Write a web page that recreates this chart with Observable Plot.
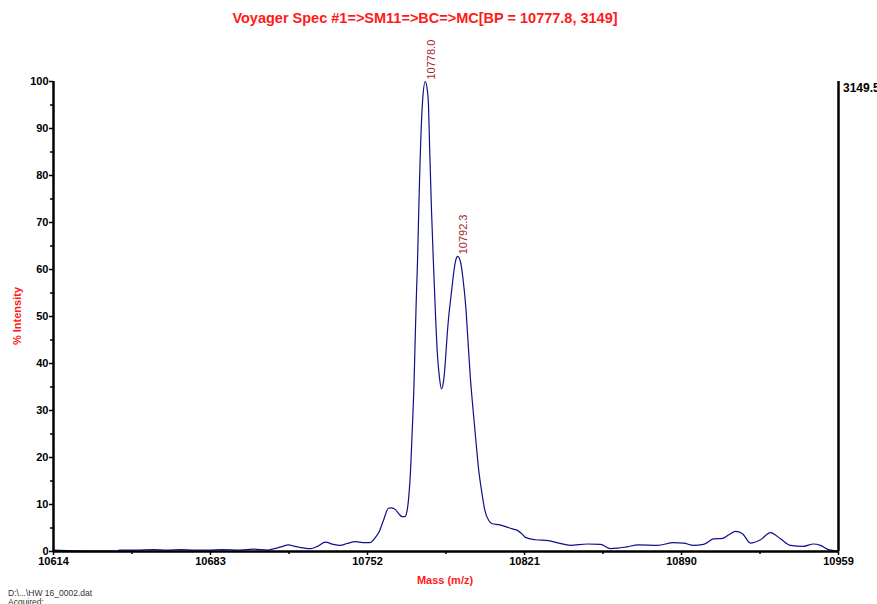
<!DOCTYPE html>
<html>
<head>
<meta charset="utf-8">
<script src="https://cdn.jsdelivr.net/npm/d3@7"></script>
<script src="https://cdn.jsdelivr.net/npm/@observablehq/plot@0.6"></script>
<style>
  html, body { margin: 0; padding: 0; background: #fff; }
  #wrap { position: relative; width: 877px; height: 604px; overflow: hidden; font-family: "Liberation Sans", Arial, sans-serif; }
  #chart { position: absolute; left: 0; top: 0; }
  .lbl { position: absolute; white-space: nowrap; line-height: 1; }
  #title { left: 425px; top: 11px; transform: translateX(-50%); color: #ff1a1a; font-weight: bold; font-size: 14.5px; }
  #ylab { left: 17px; top: 316px; transform: translate(-50%, -50%) rotate(-90deg); color: #ff1a1a; font-weight: bold; font-size: 11px; }
  #xlab { left: 445px; top: 575px; transform: translateX(-50%); color: #ff1a1a; font-weight: bold; font-size: 11px; }
  #rlab { left: 843px; top: 82px; color: #000; font-weight: bold; font-size: 12px; }
  #foot1 { left: 8px; top: 589px; color: #333; font-size: 8.5px; }
  #foot2 { left: 8px; top: 598px; color: #333; font-size: 8.5px; }
</style>
</head>
<body>
<div id="wrap">
  <div id="chart"></div>
  <div class="lbl" id="title">Voyager Spec #1=&gt;SM11=&gt;BC=&gt;MC[BP = 10777.8, 3149]</div>
  <div class="lbl" id="ylab">% Intensity</div>
  <div class="lbl" id="xlab">Mass (m/z)</div>
  <div class="lbl" id="rlab">3149.5</div>
  <div class="lbl" id="foot1">D:\...\HW 16_0002.dat</div>
  <div class="lbl" id="foot2">Acquired:</div>
</div>
<script>
const mass = [
  10614.0, 10620, 10630, 10642, 10643, 10650, 10658, 10664, 10670, 10676,
  10682, 10688, 10696, 10702, 10708, 10711, 10714, 10717.3, 10720, 10722,
  10727, 10730, 10733.5, 10737, 10740, 10743, 10746.7, 10750, 10753, 10755.5,
  10757, 10759, 10761.2, 10762.5, 10764.3, 10765.8, 10767.3, 10768.4, 10769.4, 10770.2,
  10770.9, 10771.6, 10772.4, 10772.9, 10773.4, 10774.0, 10774.55, 10775.1, 10775.6, 10776.3,
  10777.4, 10778.2, 10778.8, 10779.3, 10780.1, 10780.9, 10781.9, 10782.6, 10783.6,
  10784.5, 10785.5, 10786.3, 10787.0, 10787.7, 10788.5, 10789.2, 10789.9, 10790.8, 10791.6,
  10792.9, 10794.1, 10795.2, 10796.2, 10797.2, 10798.0, 10799.5, 10800.9, 10802.1, 10803.6, 10805.3,
  10806.8, 10809.7, 10812.7, 10815.7, 10817.9, 10820, 10821.4, 10825.8, 10831.5, 10836,
  10841.2, 10848.7, 10854.4, 10858.8, 10861.9, 10866, 10871.1, 10879.5, 10886.5, 10890.9,
  10895.3, 10899.7, 10904.1, 10908.1, 10911, 10913.7, 10916.8, 10920.3, 10924.7, 10929.1,
  10933.5, 10937.9, 10943.6, 10948.0, 10951.1, 10954.6, 10958.6
];
const intensity = [
  0.3, 0.2, 0.1, 0.1, 0.3, 0.3, 0.4, 0.3, 0.4, 0.3,
  0.3, 0.4, 0.3, 0.5, 0.3, 0.6, 1.0, 1.4, 1.1, 0.9,
  0.6, 1.1, 2.0, 1.5, 1.3, 1.7, 2.1, 1.9, 1.9, 3.0,
  4.1, 6.6, 9.2, 9.3, 8.9, 8.0, 7.4, 7.4, 8.7, 12.0,
  17.0, 25.0, 35.0, 44.0, 53.0, 62.0, 73.0, 83.0, 90.0, 96.5,
  100, 98.5, 95, 86, 73, 62.3, 50.2, 42.8, 37.1,
  34.6, 36.5, 41, 46, 50, 53.5, 56.5, 59.4, 62, 62.8,
  61.6, 57.5, 52, 44.5, 37, 32.3, 24.3, 17.2, 13, 8.7, 6.6,
  5.9, 5.7, 5.3, 4.8, 4.5, 3.7, 3.0, 2.5, 2.3, 1.8,
  1.3, 1.6, 1.5, 0.6, 0.7, 1.0, 1.4, 1.3, 1.9, 1.8,
  1.3, 1.5, 2.7, 2.8, 3.6, 4.3, 3.8, 1.8, 2.5, 4.0,
  2.7, 1.3, 1.1, 1.6, 1.3, 0.4, 0.1
];
const peakMass = [10777.4, 10791.6];
const peakIntensity = [100, 62.8];
const peakLabels = ["10778.0", "10792.3"];
const xTicks = [10614, 10683, 10752, 10821, 10890, 10959];
const xMinorTicks = [10648.5, 10717.5, 10786.5, 10855.5, 10924.5];
const yTicks = [0, 10, 20, 30, 40, 50, 60, 70, 80, 90, 100];
const yMinorTicks = [5, 15, 25, 35, 45, 55, 65, 75, 85, 95];

const spectrum = mass.map((m, i) => ({m, v: intensity[i]}));
const peaks = peakMass.map((m, i) => ({m, v: peakIntensity[i], t: peakLabels[i]}));

const chart = Plot.plot({
  width: 877,
  height: 604,
  marginLeft: 53,
  marginRight: 39,
  marginTop: 81,
  marginBottom: 53,
  style: {fontFamily: "'Liberation Sans', Arial, sans-serif", fontSize: "11px", color: "#000", background: "transparent", overflow: "visible"},
  x: {domain: [10614, 10959]},
  y: {domain: [0, 100]},
  marks: [
    Plot.line(spectrum, {x: "m", y: "v", stroke: "#10108a", strokeWidth: 1.2, curve: "monotone-x"}),
    Plot.axisY({ticks: yMinorTicks, tickSize: 3, tickFormat: () => "", label: null, strokeWidth: 1.5}),
    Plot.axisY({ticks: yTicks, tickSize: 4, tickPadding: 1, tickFormat: d => String(d), label: null, fontWeight: "bold", fontSize: 11, strokeWidth: 1.5}),
    Plot.axisX({ticks: xMinorTicks, tickSize: 3, tickFormat: () => "", label: null, strokeWidth: 1.5}),
    Plot.axisX({ticks: xTicks, tickSize: 4, tickPadding: 2, tickFormat: d => String(d), label: null, fontWeight: "bold", fontSize: 11, strokeWidth: 1.5}),
    Plot.ruleX([10614], {stroke: "#000", strokeWidth: 2.5}),
    Plot.ruleX([10959], {stroke: "#000", strokeWidth: 2.5}),
    Plot.ruleY([0], {stroke: "#000", strokeWidth: 2.5}),
    Plot.text(peaks, {x: "m", y: "v", text: "t", rotate: -90, textAnchor: "start", lineAnchor: "middle", dx: 6, dy: -2, fill: "#a52a2a", fontSize: 11})
  ]
});
document.getElementById("chart").appendChild(chart);
</script>
</body>
</html>
